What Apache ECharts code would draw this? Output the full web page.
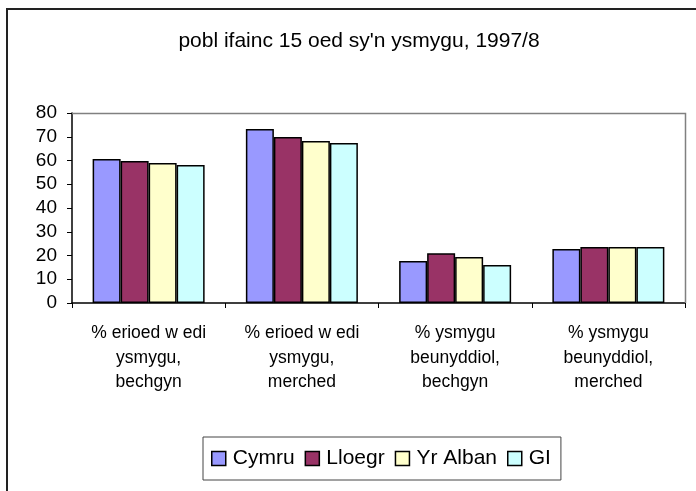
<!DOCTYPE html>
<html>
<head>
<meta charset="utf-8">
<script src="https://cdn.jsdelivr.net/npm/echarts@6/dist/echarts.min.js"></script>
<style>html,body{margin:0;padding:0;background:#fff}#c{width:696px;height:491px}</style>
</head>
<body>
<div id="c"></div>
<script>
const titleText = "pobl ifainc 15 oed sy'n ysmygu, 1997/8";
const categories = [
  "% erioed w edi\nysmygu,\nbechgyn",
  "% erioed w edi\nysmygu,\nmerched",
  "% ysmygu\nbeunyddiol,\nbechgyn",
  "% ysmygu\nbeunyddiol,\nmerched"
];
const seriesNames = ["Cymru", "Lloegr", "Yr Alban", "GI"];
const cymru = [60.6, 73.3, 17.7, 22.7];
const lloegr = [59.8, 69.9, 21.0, 23.6];
const yrAlban = [59.0, 68.2, 19.4, 23.6];
const gi = [58.1, 67.4, 16.0, 23.6];
const yTicks = [0, 10, 20, 30, 40, 50, 60, 70, 80];
const colors = ["#9999FF", "#993366", "#FFFFCC", "#CCFFFF"];

const seriesData = [cymru, lloegr, yrAlban, gi];
const font = "'Liberation Sans', Arial, sans-serif";

const chart = echarts.init(document.getElementById('c'), null, {renderer: 'canvas'});
chart.setOption({
  animation: false,
  backgroundColor: '#fff',
  title: {
    text: titleText,
    left: 354, top: 26, textAlign: 'center',
    textStyle: {fontFamily: font, fontSize: 21, fontWeight: 'normal', color: '#000'}
  },
  graphic: [
    {type: 'rect', shape: {x: 7, y: 9, width: 800, height: 600}, style: {fill: 'none', stroke: '#222', lineWidth: 2}, z: 100},
    {type: 'polyline', shape: {points: [[72, 113.5], [685.5, 113.5], [685.5, 303]]}, style: {fill: 'none', stroke: '#808080', lineWidth: 1.5}, z: 100}
  ],
  legend: {
    data: seriesNames,
    left: 203, top: 437,
    padding: [11, 10, 11, 8],
    itemWidth: 14, itemHeight: 14, itemGap: 10,
    borderColor: '#444', borderWidth: 1,
    icon: 'rect',
    itemStyle: {borderColor: '#000', borderWidth: 1.5},
    textStyle: {fontFamily: font, fontSize: 21, color: '#000', padding: [0, 0, 0, 2]}
  },
  grid: {left: 72, top: 113, right: 11, bottom: 188, containLabel: false},
  xAxis: {
    type: 'category',
    data: categories,
    axisLine: {lineStyle: {color: '#000', width: 1.5}},
    axisTick: {show: true, length: 5, lineStyle: {color: '#000'}},
    axisLabel: {fontFamily: font, fontSize: 17.5, color: '#000', lineHeight: 24.5, margin: 18, interval: 0}
  },
  yAxis: {
    type: 'value',
    min: yTicks[0], max: yTicks[yTicks.length - 1], interval: 10,
    axisLine: {show: true, lineStyle: {color: '#000', width: 1.5}},
    axisTick: {show: true, length: 5, lineStyle: {color: '#000'}},
    splitLine: {show: false},
    axisLabel: {fontFamily: font, fontSize: 19, color: '#000', margin: 15}
  },
  series: seriesNames.map((n, i) => ({
    name: n,
    type: 'bar',
    data: seriesData[i],
    barWidth: 28,
    barGap: '0%',
    itemStyle: {color: colors[i], borderColor: '#000', borderWidth: 1.5}
  }))
});
</script>
</body>
</html>
